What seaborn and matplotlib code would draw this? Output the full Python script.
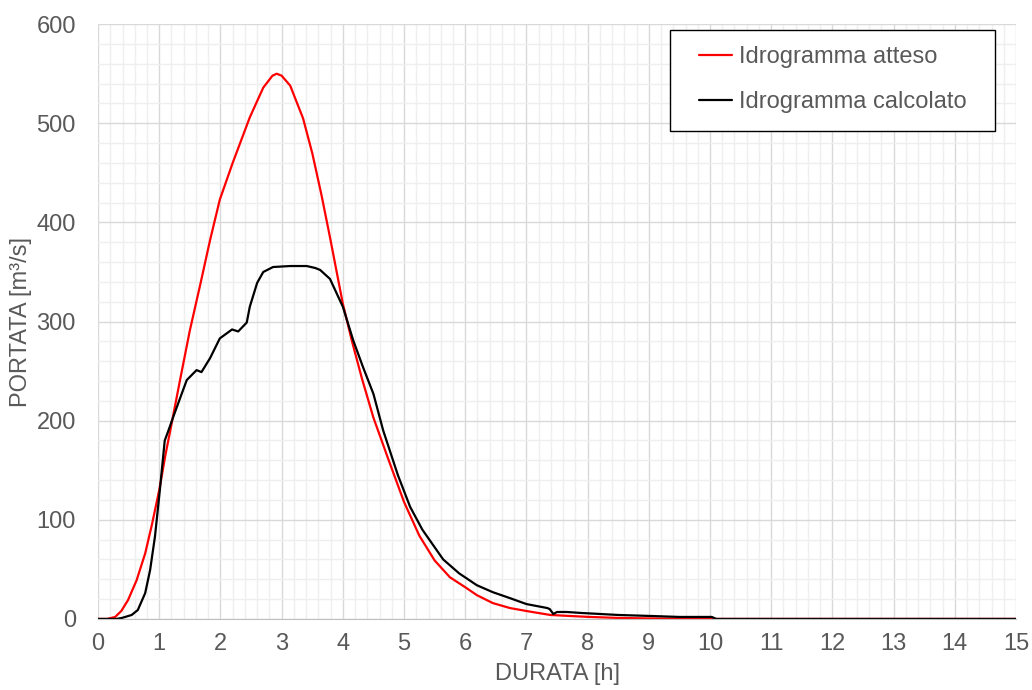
import matplotlib
matplotlib.use("Agg")
import matplotlib.pyplot as plt
import pandas as pd
import seaborn as sns
from matplotlib.patches import Rectangle
from matplotlib.ticker import MultipleLocator


# Idrogramma atteso (rosso)
ATTESO_T = [0, 0.15, 0.28, 0.38, 0.49, 0.63, 0.77, 0.88, 1.0, 1.1, 1.18, 1.34, 1.5,
            1.68, 1.83, 1.99, 2.2, 2.48, 2.7, 2.85, 2.92, 3.0, 3.14, 3.35, 3.5, 3.65,
            3.79, 4.0, 4.15, 4.31, 4.5, 4.75, 5.0, 5.25, 5.5, 5.75, 6.0, 6.19, 6.45,
            6.73, 7.0, 7.39, 7.7, 8.04, 8.5, 9.0, 9.5, 10.05, 15]
ATTESO_Q = [0, 0, 2, 8, 19, 39, 66, 95, 130, 165, 190, 241, 291,
            340, 382, 423, 460, 506, 536, 548, 550, 548, 538, 505, 470, 428,
            385, 318, 280, 243, 203, 160, 118, 84, 59, 42, 32, 24, 16,
            11, 8, 4, 3, 2, 1, 0.5, 0.2, 0, 0]

# Idrogramma calcolato (nero)
CALC_T = [0, 0.3, 0.39, 0.55, 0.65, 0.77, 0.85, 0.93, 1.01, 1.09, 1.15, 1.23, 1.39,
          1.45, 1.61, 1.69, 1.83, 1.99, 2.19, 2.29, 2.43, 2.48, 2.6, 2.7, 2.86, 3.14,
          3.41, 3.55, 3.63, 3.79, 4.0, 4.17, 4.33, 4.5, 4.66, 4.9, 5.1, 5.3, 5.64,
          5.9, 6.19, 6.45, 6.73, 7.0, 7.34, 7.38, 7.44, 7.5, 7.66, 7.9, 8.2, 8.5,
          9.02, 9.5, 10.03, 10.1, 15]
CALC_Q = [0, 0, 1, 4, 9, 26, 49, 83, 130, 180, 190, 204, 231,
          241, 251, 249, 263, 283, 292, 290, 299, 315, 339, 350, 355, 356,
          356, 354, 352, 343, 315, 281, 254, 227, 190, 145, 113, 90, 60,
          46, 34, 27, 21, 15, 11, 10, 5, 7, 7, 6, 5, 4,
          3, 2, 2, 0, 0]

LABELS = ["Idrogramma atteso", "Idrogramma calcolato"]
COLORS = ["#ff0000", "#000000"]
TEXT = "#595959"
FS = 17


def main():
    sns.set_style("white")
    plt.rcParams["font.family"] = ["Liberation Sans", "DejaVu Sans"]

    df = pd.concat([
        pd.DataFrame({"t": ATTESO_T, "q": ATTESO_Q, "serie": LABELS[0]}),
        pd.DataFrame({"t": CALC_T, "q": CALC_Q, "serie": LABELS[1]}),
    ])

    fig = plt.figure(figsize=(10.32, 6.9), dpi=100)
    ax = fig.add_axes([0.095, 0.103, 0.8895, 0.862])
    sns.lineplot(data=df, x="t", y="q", hue="serie", palette=COLORS, sort=False,
                 estimator=None, linewidth=1.6, ax=ax)

    ax.set_xlim(0, 15)
    ax.set_ylim(0, 600)
    ax.xaxis.set_major_locator(MultipleLocator(1))
    ax.xaxis.set_minor_locator(MultipleLocator(0.2))
    ax.yaxis.set_major_locator(MultipleLocator(100))
    ax.yaxis.set_minor_locator(MultipleLocator(20))
    ax.grid(which="major", color="#d9d9d9", linewidth=1.0)
    ax.grid(which="minor", color="#efefef", linewidth=1.0)
    ax.set_axisbelow(True)
    ax.tick_params(which="both", length=0, labelsize=FS, labelcolor=TEXT)
    ax.tick_params(axis="x", pad=10)
    ax.tick_params(axis="y", pad=16)
    for side in ["top", "right", "left"]:
        ax.spines[side].set_visible(False)
    ax.spines["bottom"].set_color("#bfbfbf")

    ax.set_xlabel("DURATA [h]", fontsize=FS, color=TEXT, labelpad=6)
    ax.set_ylabel("PORTATA [m³/s]", fontsize=FS, color=TEXT, labelpad=3)

    # legend box drawn separately to get the wide horizontal padding
    ax.add_patch(Rectangle((0.623, 0.82), 0.354, 0.17, transform=ax.transAxes,
                           facecolor="white", edgecolor="black", linewidth=1.0,
                           zorder=4.9, clip_on=False))
    leg = ax.legend(loc="center left", bbox_to_anchor=(0.6547, 0.9067), borderaxespad=0,
                    borderpad=0, frameon=False, fontsize=FS, handlelength=1.4,
                    handletextpad=0.3, labelspacing=1.0)
    for txt in leg.get_texts():
        txt.set_color(TEXT)

    fig.savefig("out.png", dpi=100)
    plt.close(fig)


if __name__ == "__main__":
    main()
